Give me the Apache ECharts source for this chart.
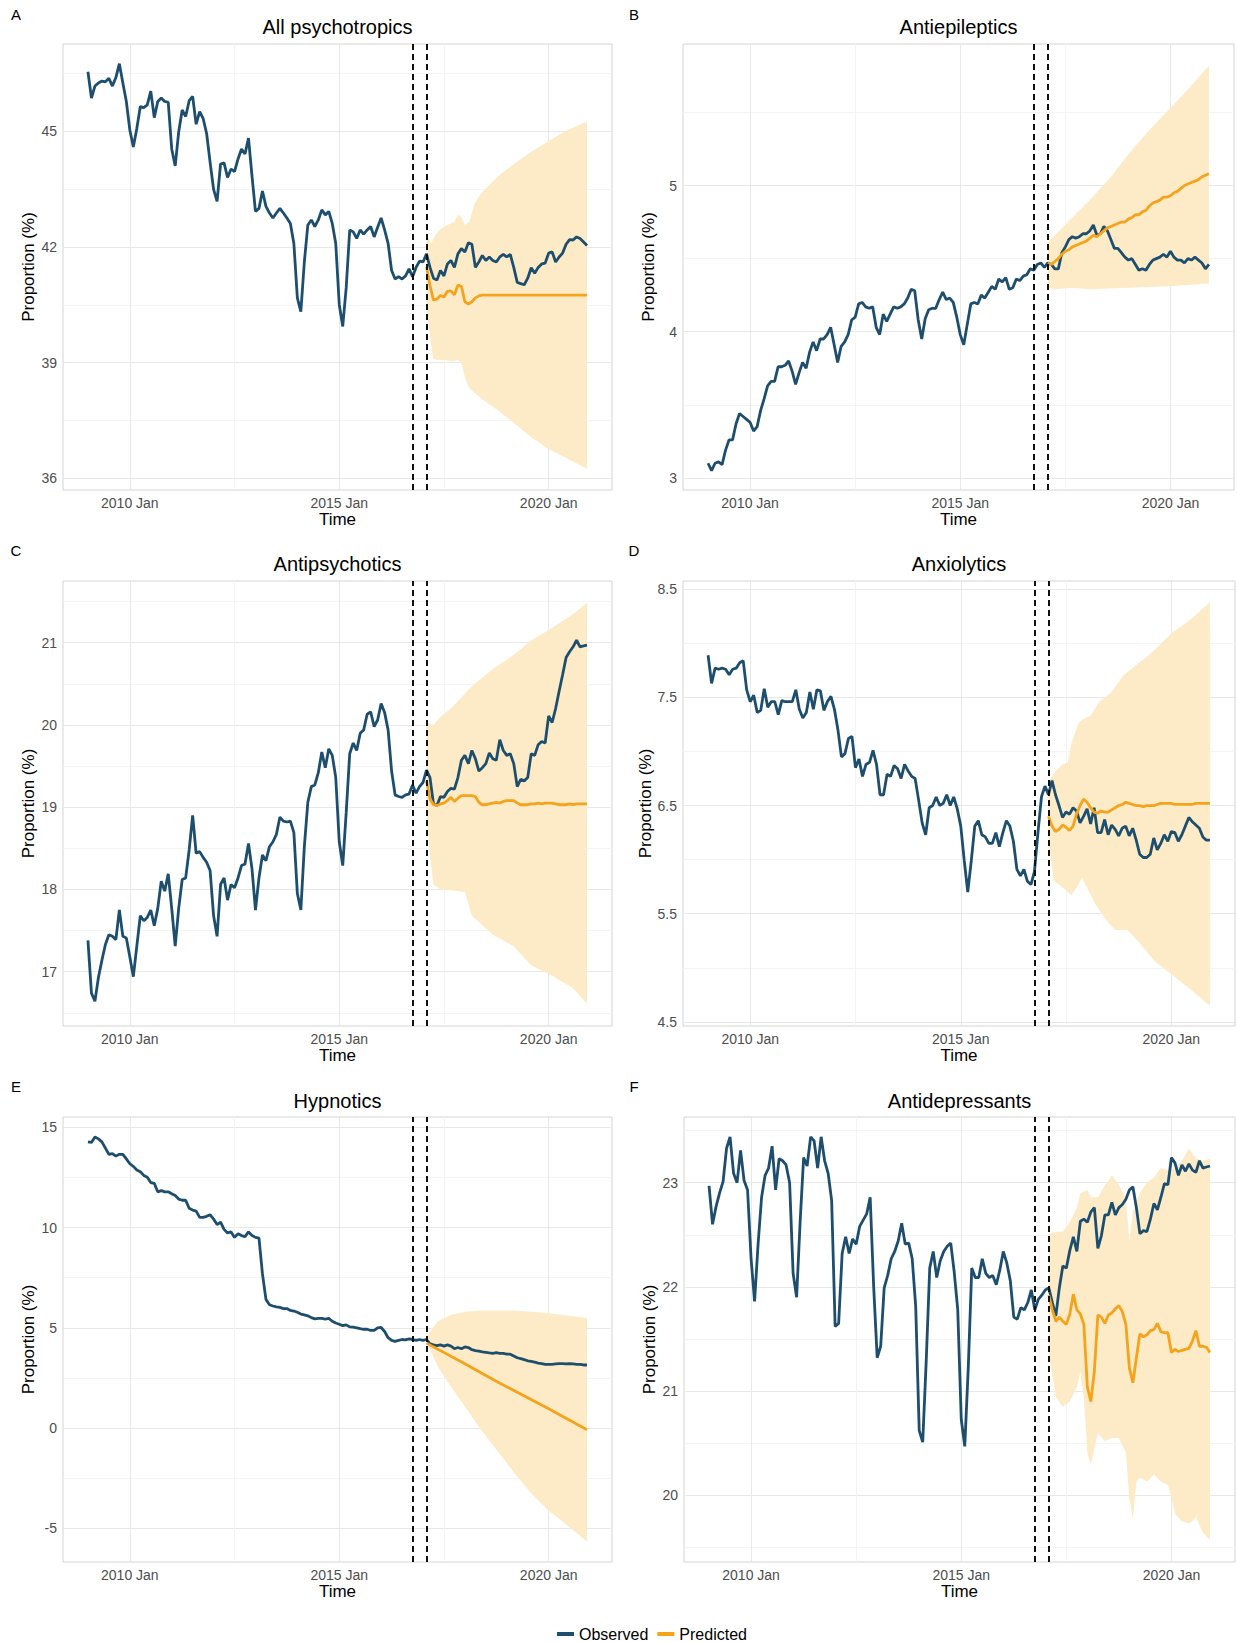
<!DOCTYPE html>
<html>
<head>
<meta charset="utf-8">
<title>Psychotropic prescribing: observed vs predicted</title>
<script src="https://cdn.jsdelivr.net/npm/echarts@6/dist/echarts.min.js"></script>
<style>
  html, body { margin: 0; padding: 0; background: #fff; }
  #chart { width: 1237px; height: 1642px; }
</style>
</head>
<body>
<div id="chart"></div>
<script>
// x values are month indices: 0 = 2009 Jan ... 143 = 2020 Dec
const xTickMonths = [12, 72, 132];
const xTickLabels = ["2010 Jan", "2015 Jan", "2020 Jan"];
const xMinorMonths = [42, 102];
const interventionMonths = [93, 97];

// A - All psychotropics
const obsA = [
  46.54, 45.86, 46.17, 46.25, 46.30, 46.28, 46.37, 46.17, 46.39, 46.75, 46.25, 45.77,
  45.03, 44.59, 45.07, 45.64, 45.61, 45.68, 46.04, 45.35, 45.77, 45.86, 45.77, 45.75,
  44.54, 44.10, 44.98, 45.55, 45.38, 45.79, 45.90, 45.18, 45.51, 45.33, 44.94, 44.19,
  43.49, 43.18, 44.15, 44.18, 43.80, 44.02, 43.95, 44.28, 44.54, 44.41, 44.82, 43.84,
  42.92, 43.00, 43.45, 43.05, 42.88, 42.75, 42.88, 43.00, 42.88, 42.75, 42.61, 42.09,
  40.68, 40.32, 41.61, 42.57, 42.70, 42.53, 42.70, 42.96, 42.83, 42.92, 42.61, 42.09,
  40.51, 39.94, 40.95, 42.44, 42.39, 42.22, 42.44, 42.33, 42.44, 42.53, 42.26, 42.51,
  42.75, 42.44, 42.09, 41.39, 41.17, 41.23, 41.17, 41.25, 41.43, 41.23, 41.47, 41.63,
  41.61, 41.82, 41.47, 41.19, 41.14, 41.39, 41.25, 41.56, 41.65, 41.47, 41.82, 41.96,
  41.87, 42.11, 42.07, 41.47, 41.61, 41.78, 41.65, 41.74, 41.65, 41.61, 41.74, 41.81,
  41.74, 41.81, 41.47, 41.08, 41.05, 41.02, 41.19, 41.46, 41.32, 41.47, 41.56, 41.58,
  41.84, 41.87, 41.61, 41.74, 41.84, 42.07, 42.19, 42.18, 42.26, 42.22, 42.13, 42.04
];
const predA = [
  [97, 41.48], [98, 41.00], [99, 40.62], [100, 40.65], [101, 40.74], [102, 40.70], [103, 40.85],
  [104, 40.86], [105, 40.76], [106, 41.01], [107, 40.98], [108, 40.58], [109, 40.52], [110, 40.58],
  [111, 40.68], [112, 40.73], [113, 40.75], [120, 40.75], [130, 40.75], [143, 40.75]
];
const upperA = [
  [97, 42.39], [98.3, 42.09], [99.8, 42.35], [101.2, 42.48], [103, 42.57], [105, 42.65], [106, 42.83],
  [107, 42.78], [108, 42.57], [109.3, 42.65], [110.8, 43.13], [112.7, 43.39], [117.5, 43.83],
  [122.3, 44.17], [127, 44.47], [131.8, 44.73], [136.6, 44.99], [143, 45.25]
];
const lowerA = [
  [97, 40.45], [97.9, 39.76], [98.9, 39.10], [100.4, 39.06], [102.3, 39.07], [104.2, 39.04],
  [106, 39.07], [107, 38.98], [108, 38.63], [109.3, 38.33], [112.7, 38.07], [117.5, 37.76],
  [122.3, 37.42], [127, 37.07], [131.8, 36.77], [136.6, 36.55], [143, 36.25]
];

// B - Antiepileptics
const obsB = [
  3.10, 3.05, 3.10, 3.11, 3.09, 3.19, 3.26, 3.26, 3.37, 3.44, 3.42, 3.40,
  3.38, 3.32, 3.35, 3.46, 3.54, 3.63, 3.66, 3.66, 3.76, 3.76, 3.77, 3.80,
  3.73, 3.64, 3.72, 3.79, 3.75, 3.86, 3.93, 3.87, 3.95, 3.95, 3.98, 4.03,
  3.91, 3.79, 3.90, 3.93, 3.98, 4.08, 4.10, 4.19, 4.20, 4.17, 4.16, 4.17,
  4.03, 3.98, 4.12, 4.07, 4.12, 4.17, 4.16, 4.17, 4.19, 4.23, 4.29, 4.28,
  4.08, 3.95, 4.09, 4.15, 4.16, 4.16, 4.22, 4.27, 4.22, 4.23, 4.20, 4.10,
  3.98, 3.91, 4.05, 4.19, 4.20, 4.19, 4.25, 4.23, 4.27, 4.31, 4.29, 4.36,
  4.34, 4.37, 4.29, 4.30, 4.36, 4.35, 4.38, 4.39, 4.43, 4.42, 4.46, 4.47,
  4.44, 4.47, 4.46, 4.43, 4.43, 4.54, 4.58, 4.63, 4.65, 4.64, 4.65, 4.67,
  4.67, 4.69, 4.73, 4.66, 4.67, 4.72, 4.69, 4.63, 4.57, 4.57, 4.54, 4.51,
  4.49, 4.50, 4.46, 4.42, 4.43, 4.42, 4.46, 4.49, 4.50, 4.51, 4.53, 4.51,
  4.55, 4.51, 4.49, 4.49, 4.47, 4.50, 4.49, 4.51, 4.49, 4.47, 4.43, 4.46
];
const predB = [
  [97, 4.47], [98, 4.46], [99, 4.48], [100, 4.50], [101, 4.53], [102, 4.55], [103, 4.56], [104, 4.58],
  [105, 4.59], [106, 4.60], [107, 4.61], [108, 4.62], [109, 4.64], [110, 4.66], [111, 4.65], [112, 4.67],
  [113, 4.69], [114, 4.71], [115, 4.72], [116, 4.73], [117, 4.74], [118, 4.75], [119, 4.75], [120, 4.77],
  [121, 4.78], [122, 4.80], [123, 4.80], [124, 4.82], [125, 4.83], [126, 4.86], [127, 4.88], [128, 4.89],
  [129, 4.90], [130, 4.92], [131, 4.92], [132, 4.93], [133, 4.95], [134, 4.96], [135, 4.98], [136, 5.00],
  [137, 5.01], [138, 5.02], [139, 5.03], [140, 5.04], [141, 5.06], [142, 5.07], [143, 5.08]
];
const upperB = [
  [97, 4.61], [103.5, 4.77], [109, 4.90], [115, 5.06], [120.5, 5.23], [126, 5.38], [132, 5.53],
  [137.5, 5.67], [143, 5.82]
];
const lowerB = [
  [97, 4.30], [99, 4.29], [104, 4.30], [109, 4.29], [120, 4.30], [132, 4.31], [143, 4.33]
];

// C - Antipsychotics
const obsC = [
  17.38, 16.74, 16.64, 16.93, 17.14, 17.33, 17.45, 17.43, 17.39, 17.75, 17.43, 17.41,
  17.18, 16.94, 17.31, 17.68, 17.62, 17.66, 17.75, 17.56, 17.77, 18.10, 17.98, 18.19,
  17.77, 17.31, 17.77, 18.12, 18.14, 18.48, 18.90, 18.44, 18.46, 18.39, 18.33, 18.23,
  17.68, 17.43, 18.06, 18.14, 17.87, 18.06, 18.02, 18.14, 18.29, 18.31, 18.56, 18.25,
  17.75, 18.14, 18.42, 18.35, 18.52, 18.58, 18.67, 18.88, 18.83, 18.82, 18.83, 18.69,
  17.95, 17.75, 18.52, 19.06, 19.25, 19.27, 19.42, 19.67, 19.48, 19.71, 19.63, 19.36,
  18.58, 18.29, 18.94, 19.65, 19.78, 19.69, 19.90, 19.94, 20.13, 20.16, 19.98, 20.06,
  20.26, 20.15, 19.94, 19.44, 19.15, 19.13, 19.12, 19.15, 19.16, 19.27, 19.17, 19.25,
  19.30, 19.45, 19.36, 19.04, 19.02, 19.13, 19.12, 19.19, 19.23, 19.22, 19.36, 19.57,
  19.63, 19.53, 19.69, 19.59, 19.44, 19.48, 19.53, 19.66, 19.59, 19.57, 19.82, 19.69,
  19.63, 19.65, 19.53, 19.25, 19.34, 19.32, 19.36, 19.65, 19.63, 19.76, 19.80, 19.78,
  20.11, 20.03, 20.20, 20.41, 20.61, 20.82, 20.89, 20.95, 21.03, 20.95, 20.96, 20.97
];
const predC = [
  [97, 19.32], [98, 19.10], [99, 19.03], [100, 19.02], [101, 19.04], [102, 19.05], [103, 19.08],
  [104, 19.12], [105, 19.07], [106, 19.11], [107, 19.14], [108, 19.14], [109, 19.14], [110, 19.14],
  [111, 19.13], [112, 19.06], [113, 19.03], [114, 19.03], [115, 19.04], [116, 19.05], [117, 19.06],
  [118, 19.05], [119, 19.07], [120, 19.08], [121, 19.08], [122, 19.08], [123, 19.05], [124, 19.03],
  [125, 19.03], [126, 19.03], [127, 19.04], [128, 19.04], [129, 19.05], [130, 19.04], [131, 19.05],
  [132, 19.05], [133, 19.05], [134, 19.04], [135, 19.03], [136, 19.03], [137, 19.03], [138, 19.04],
  [139, 19.03], [140, 19.04], [141, 19.04], [142, 19.04], [143, 19.04]
];
const upperC = [
  [97, 20.03], [99, 20.00], [101, 20.10], [104, 20.20], [110, 20.47], [116, 20.68], [122, 20.85],
  [127, 21.03], [133, 21.18], [139, 21.35], [143, 21.49]
];
const lowerC = [
  [97, 18.90], [98, 18.40], [99, 18.06], [101, 18.00], [104, 17.99], [108, 17.97], [110, 17.68],
  [116, 17.45], [122, 17.31], [127, 17.08], [133, 16.95], [139, 16.80], [143, 16.61]
];

// D - Anxiolytics
const obsD = [
  7.89, 7.63, 7.77, 7.76, 7.77, 7.76, 7.71, 7.76, 7.77, 7.82, 7.84, 7.57,
  7.46, 7.52, 7.36, 7.38, 7.58, 7.41, 7.46, 7.46, 7.34, 7.47, 7.46, 7.46,
  7.46, 7.57, 7.39, 7.31, 7.36, 7.55, 7.39, 7.57, 7.56, 7.38, 7.46, 7.51,
  7.39, 7.20, 6.95, 6.98, 7.12, 7.14, 6.85, 6.93, 6.77, 6.88, 6.90, 7.01,
  6.88, 6.60, 6.60, 6.79, 6.77, 6.87, 6.84, 6.75, 6.88, 6.82, 6.77, 6.75,
  6.55, 6.34, 6.23, 6.48, 6.50, 6.58, 6.50, 6.52, 6.60, 6.50, 6.58, 6.47,
  6.31, 5.99, 5.70, 5.99, 6.31, 6.36, 6.23, 6.21, 6.15, 6.15, 6.25, 6.12,
  6.25, 6.36, 6.31, 6.17, 5.91, 5.85, 5.91, 5.80, 5.77, 5.89, 6.25, 6.58,
  6.68, 6.60, 6.73, 6.60, 6.50, 6.39, 6.44, 6.42, 6.48, 6.45, 6.34, 6.40,
  6.47, 6.33, 6.48, 6.25, 6.25, 6.37, 6.23, 6.32, 6.28, 6.22, 6.29, 6.31,
  6.22, 6.29, 6.18, 6.05, 6.02, 6.02, 6.05, 6.20, 6.09, 6.15, 6.23, 6.17,
  6.26, 6.25, 6.17, 6.23, 6.31, 6.39, 6.35, 6.32, 6.29, 6.21, 6.18, 6.18
];
const predD = [
  [97, 6.40], [98, 6.31], [99, 6.26], [100, 6.28], [101, 6.32], [102, 6.30], [103, 6.27], [104, 6.31],
  [105, 6.42], [106, 6.50], [107, 6.56], [108, 6.53], [109, 6.48], [110, 6.44], [111, 6.43], [112, 6.45],
  [113, 6.44], [114, 6.44], [115, 6.46], [116, 6.48], [117, 6.50], [118, 6.51], [119, 6.53], [120, 6.52],
  [121, 6.51], [122, 6.50], [123, 6.50], [124, 6.49], [125, 6.50], [126, 6.50], [127, 6.50], [128, 6.51],
  [129, 6.52], [130, 6.52], [131, 6.52], [132, 6.52], [133, 6.51], [134, 6.51], [135, 6.51], [136, 6.51],
  [137, 6.51], [138, 6.51], [139, 6.52], [140, 6.52], [141, 6.52], [142, 6.52], [143, 6.52]
];
const upperD = [
  [97, 6.72], [99, 6.82], [101, 6.88], [102.5, 6.90], [103.5, 7.07], [105.5, 7.26], [107, 7.30],
  [109, 7.33], [111.5, 7.46], [115, 7.55], [118.5, 7.71], [120.5, 7.76], [126, 7.90], [132, 8.09],
  [137.5, 8.22], [143, 8.38]
];
const lowerD = [
  [97, 6.18], [98.5, 5.80], [100, 5.77], [102.5, 5.70], [103.5, 5.67], [105, 5.74], [106.5, 5.83],
  [108, 5.74], [110.5, 5.58], [114, 5.42], [116, 5.35], [119.5, 5.35], [123, 5.23], [127, 5.07],
  [132, 4.94], [137.5, 4.80], [143, 4.65]
];

// E - Hypnotics
const obsE = [
  14.27, 14.24, 14.51, 14.42, 14.27, 13.96, 13.65, 13.69, 13.56, 13.65, 13.65, 13.42,
  13.18, 13.05, 12.87, 12.78, 12.60, 12.51, 12.24, 12.20, 11.78, 11.84, 11.78, 11.78,
  11.69, 11.60, 11.42, 11.36, 11.36, 10.96, 10.87, 10.82, 10.51, 10.51, 10.56, 10.64,
  10.42, 10.15, 10.27, 9.91, 9.73, 9.78, 9.51, 9.69, 9.60, 9.55, 9.78, 9.60,
  9.51, 9.47, 7.69, 6.42, 6.15, 6.09, 6.05, 6.02, 5.96, 5.96, 5.87, 5.84,
  5.78, 5.69, 5.65, 5.60, 5.51, 5.45, 5.47, 5.47, 5.44, 5.47, 5.33, 5.24,
  5.18, 5.11, 5.15, 5.05, 5.04, 5.00, 4.96, 4.93, 4.93, 4.87, 4.87, 5.00,
  5.02, 4.82, 4.51, 4.38, 4.33, 4.38, 4.42, 4.40, 4.45, 4.42, 4.38, 4.42,
  4.38, 4.42, 4.20, 4.15, 4.11, 4.15, 4.09, 4.15, 4.09, 3.96, 4.02, 3.96,
  4.05, 4.02, 3.91, 3.87, 3.84, 3.80, 3.78, 3.75, 3.73, 3.76, 3.73, 3.73,
  3.69, 3.69, 3.60, 3.51, 3.47, 3.42, 3.36, 3.33, 3.29, 3.24, 3.22, 3.18,
  3.18, 3.18, 3.20, 3.22, 3.22, 3.20, 3.22, 3.20, 3.18, 3.18, 3.15, 3.15
];
const predE = [
  [97, 4.24], [108, 3.21], [117.5, 2.29], [132, 0.97], [143, -0.08]
];
const upperE = [
  [97, 4.57], [100.2, 5.32], [104, 5.65], [108, 5.80], [112.6, 5.87], [122.2, 5.87], [131.7, 5.74],
  [143, 5.49]
];
const lowerE = [
  [97, 4.30], [100.2, 3.07], [104, 2.07], [108, 1.08], [112.6, -0.08], [117.5, -1.17], [122.2, -2.25],
  [127, -3.24], [131.7, -4.07], [136.6, -4.74], [143, -5.66]
];

// F - Antidepressants
const obsF = [
  22.97, 22.60, 22.77, 22.90, 23.01, 23.33, 23.44, 23.09, 23.00, 23.31, 23.02, 22.93,
  22.27, 21.86, 22.41, 22.86, 23.07, 23.14, 23.35, 22.93, 23.23, 23.21, 23.17, 23.00,
  22.13, 21.90, 22.62, 23.24, 23.16, 23.44, 23.40, 23.14, 23.44, 23.21, 23.09, 22.83,
  21.62, 21.65, 22.32, 22.48, 22.32, 22.46, 22.41, 22.58, 22.64, 22.70, 22.86, 22.00,
  21.32, 21.43, 21.99, 22.11, 22.27, 22.34, 22.44, 22.61, 22.41, 22.42, 22.27, 21.81,
  20.62, 20.51, 21.29, 22.18, 22.34, 22.09, 22.25, 22.34, 22.39, 22.42, 22.14, 21.78,
  20.73, 20.47, 21.22, 22.18, 22.09, 22.09, 22.27, 22.13, 22.09, 22.11, 22.02, 22.16,
  22.34, 22.23, 22.06, 21.71, 21.69, 21.80, 21.78, 21.85, 21.97, 21.78, 21.88, 21.92,
  21.97, 21.99, 21.85, 21.72, 21.99, 22.20, 22.18, 22.35, 22.48, 22.34, 22.63, 22.65,
  22.62, 22.72, 22.76, 22.37, 22.49, 22.69, 22.69, 22.81, 22.69, 22.76, 22.79, 22.84,
  22.93, 22.96, 22.76, 22.51, 22.54, 22.53, 22.65, 22.80, 22.74, 22.86, 22.99, 22.98,
  23.24, 23.19, 23.07, 23.17, 23.11, 23.18, 23.12, 23.10, 23.21, 23.14, 23.15, 23.16
];
const predF = [
  [97, 21.92], [98, 21.78], [99, 21.67], [100, 21.71], [101, 21.67], [102, 21.64], [103, 21.74],
  [104, 21.93], [105, 21.78], [106, 21.74], [107, 21.64], [108, 21.04], [109, 20.90], [110, 21.19],
  [111, 21.73], [112, 21.71], [113, 21.65], [114, 21.73], [115, 21.75], [116, 21.79], [117, 21.82],
  [118, 21.76], [119, 21.64], [120, 21.22], [121, 21.08], [122, 21.32], [123, 21.55], [124, 21.52],
  [125, 21.54], [126, 21.58], [127, 21.59], [128, 21.65], [129, 21.57], [130, 21.56], [131, 21.56],
  [132, 21.37], [133, 21.40], [134, 21.38], [135, 21.39], [136, 21.40], [137, 21.41], [138, 21.48],
  [139, 21.58], [140, 21.43], [141, 21.43], [142, 21.42], [143, 21.37]
];
const upperF = [
  [97, 22.51], [99, 22.53], [101, 22.53], [103, 22.62], [104, 22.69], [105, 22.76], [106, 22.90],
  [108, 22.93], [109, 22.86], [111, 22.86], [113, 22.97], [115, 23.07], [117, 22.98], [119, 22.84],
  [120, 22.44], [121, 22.72], [123, 22.90], [125, 23.00], [127, 23.05], [129, 23.14], [131, 23.12],
  [133, 23.14], [135, 23.21], [137, 23.33], [139, 23.23], [141, 23.21], [143, 23.23]
];
const lowerF = [
  [97, 21.36], [99, 20.94], [101, 20.85], [103, 20.90], [105, 21.04], [106, 21.18], [107, 20.92],
  [108, 20.41], [109, 20.29], [110, 20.45], [111, 20.59], [113, 20.52], [115, 20.55], [117, 20.55],
  [119, 20.41], [120, 19.96], [121, 19.78], [122, 20.13], [123, 20.17], [125, 20.13], [127, 20.20],
  [129, 20.13], [131, 20.10], [132, 19.98], [133, 19.82], [135, 19.75], [137, 19.73], [138, 19.75],
  [139, 19.80], [140, 19.71], [141, 19.64], [143, 19.57]
];

const OBS_COLOR = "#1d4e6e";
const PRED_COLOR = "#f4a31b";
const BAND_COLOR = "#fdebc8";
const MAJOR_GRID = "#e8e8e8";
const MINOR_GRID = "#f4f4f4";
const FONT = "'Liberation Sans', Arial, Helvetica, sans-serif";

const panels = [
  { letter: "A", title: "All psychotropics", obs: obsA, pred: predA, upper: upperA, lower: lowerA,
    yMin: 35.70, yMax: 47.26, major: [36, 39, 42, 45], minor: [37.5, 40.5, 43.5, 46.5], digits: 0,
    left: 63, top: 44, width: 549, height: 446, letterX: 16, letterY: 14, titleY: 27 },
  { letter: "B", title: "Antiepileptics", obs: obsB, pred: predB, upper: upperB, lower: lowerB,
    yMin: 2.917, yMax: 5.968, major: [3, 4, 5], minor: [3.5, 4.5, 5.5], digits: 0,
    left: 683, top: 44, width: 551, height: 446, letterX: 634, letterY: 14, titleY: 27 },
  { letter: "C", title: "Antipsychotics", obs: obsC, pred: predC, upper: upperC, lower: lowerC,
    yMin: 16.34, yMax: 21.75, major: [17, 18, 19, 20, 21], minor: [16.5, 17.5, 18.5, 19.5, 20.5, 21.5], digits: 0,
    left: 63, top: 581, width: 549, height: 445, letterX: 16, letterY: 550, titleY: 564 },
  { letter: "D", title: "Anxiolytics", obs: obsD, pred: predD, upper: upperD, lower: lowerD,
    yMin: 4.462, yMax: 8.576, major: [4.5, 5.5, 6.5, 7.5, 8.5], minor: [5, 6, 7, 8], digits: 1,
    left: 683, top: 581, width: 552, height: 445, letterX: 634, letterY: 550, titleY: 564 },
  { letter: "E", title: "Hypnotics", obs: obsE, pred: predE, upper: upperE, lower: lowerE,
    yMin: -6.67, yMax: 15.51, major: [-5, 0, 5, 10, 15], minor: [-2.5, 2.5, 7.5, 12.5], digits: 0,
    left: 63, top: 1117, width: 549, height: 445, letterX: 16, letterY: 1086, titleY: 1101 },
  { letter: "F", title: "Antidepressants", obs: obsF, pred: predF, upper: upperF, lower: lowerF,
    yMin: 19.36, yMax: 23.63, major: [20, 21, 22, 23], minor: [19.5, 20.5, 21.5, 22.5, 23.5], digits: 0,
    left: 684, top: 1117, width: 551, height: 445, letterX: 634, letterY: 1086, titleY: 1101 }
];

function gridColors(ticks, major) {
  return ticks.map(function (t) { return major.indexOf(t) >= 0 ? MAJOR_GRID : MINOR_GRID; });
}

const grids = [];
const xAxes = [];
const yAxes = [];
const series = [];
const graphics = [];

panels.forEach(function (p, k) {
  grids.push({
    left: p.left, top: p.top, width: p.width, height: p.height,
    show: true, borderColor: "#d4d4d4", borderWidth: 1, backgroundColor: "transparent"
  });

  const xTicks = xTickMonths.concat(xMinorMonths).sort(function (a, b) { return a - b; });
  xAxes.push({
    type: "value", gridIndex: k, min: -7.15, max: 150.15,
    axisLine: { show: false },
    axisTick: { show: false, customValues: xTicks },
    axisLabel: {
      customValues: xTickMonths, color: "#4d4d4d", fontSize: 14, margin: 6, fontFamily: FONT,
      formatter: function (v) { return xTickLabels[xTickMonths.indexOf(v)] || ""; }
    },
    splitLine: { show: true, lineStyle: { color: gridColors(xTicks, xTickMonths), width: 1 } },
    name: "Time", nameLocation: "middle", nameGap: 21,
    nameTextStyle: { fontSize: 17, color: "#000", fontFamily: FONT }
  });

  const yTicks = p.major.concat(p.minor).sort(function (a, b) { return a - b; });
  yAxes.push({
    type: "value", gridIndex: k, min: p.yMin, max: p.yMax,
    axisLine: { show: false },
    axisTick: { show: false, customValues: yTicks },
    axisLabel: {
      customValues: p.major, color: "#4d4d4d", fontSize: 14, margin: 6, fontFamily: FONT,
      formatter: function (v) { return v.toFixed(p.digits); }
    },
    splitLine: { show: true, lineStyle: { color: gridColors(yTicks, p.major), width: 1 } },
    name: "Proportion (%)", nameLocation: "middle", nameGap: 26,
    nameTextStyle: { fontSize: 17, color: "#000", fontFamily: FONT }
  });

  // prediction interval as a filled polygon, built from the axis scales
  series.push({
    type: "custom", xAxisIndex: k, yAxisIndex: k, silent: true, clip: true, z: 1,
    data: [p.upper[0]],
    renderItem: function (params, api) {
      const pts = p.upper.map(function (d) { return api.coord(d); })
        .concat(p.lower.slice().reverse().map(function (d) { return api.coord(d); }));
      return { type: "polygon", shape: { points: pts }, style: { fill: BAND_COLOR } };
    }
  });

  series.push({
    name: "Observed", type: "line", xAxisIndex: k, yAxisIndex: k, z: 3,
    data: p.obs.map(function (v, i) { return [i, v]; }),
    symbol: "none", color: OBS_COLOR,
    lineStyle: { color: OBS_COLOR, width: 2.8 },
    markLine: {
      silent: true, symbol: ["none", "none"], label: { show: false },
      lineStyle: { color: "#111", type: [6, 4], width: 2 },
      data: interventionMonths.map(function (m) { return { xAxis: m }; })
    }
  });

  series.push({
    name: "Predicted", type: "line", xAxisIndex: k, yAxisIndex: k, z: 4,
    data: p.pred, symbol: "none", color: PRED_COLOR,
    lineStyle: { color: PRED_COLOR, width: 2.8 }
  });

  graphics.push({
    type: "text", x: p.letterX, y: p.letterY,
    style: { text: p.letter, font: "15px " + FONT, fill: "#000", align: "center", verticalAlign: "middle" }
  });
  graphics.push({
    type: "text", x: p.left + p.width / 2, y: p.titleY,
    style: { text: p.title, font: "20px " + FONT, fill: "#000", align: "center", verticalAlign: "middle" }
  });
});

const chart = echarts.init(document.getElementById("chart"), null, { renderer: "svg" });
chart.setOption({
  animation: false,
  backgroundColor: "#fff",
  textStyle: { fontFamily: FONT },
  grid: grids,
  xAxis: xAxes,
  yAxis: yAxes,
  series: series,
  graphic: graphics,
  legend: {
    data: ["Observed", "Predicted"],
    left: 552, top: 1621,
    icon: "rect", itemWidth: 17, itemHeight: 4, itemGap: 9,
    textStyle: { fontSize: 16, color: "#000", fontFamily: FONT },
    selectedMode: false
  }
});
</script>
</body>
</html>
